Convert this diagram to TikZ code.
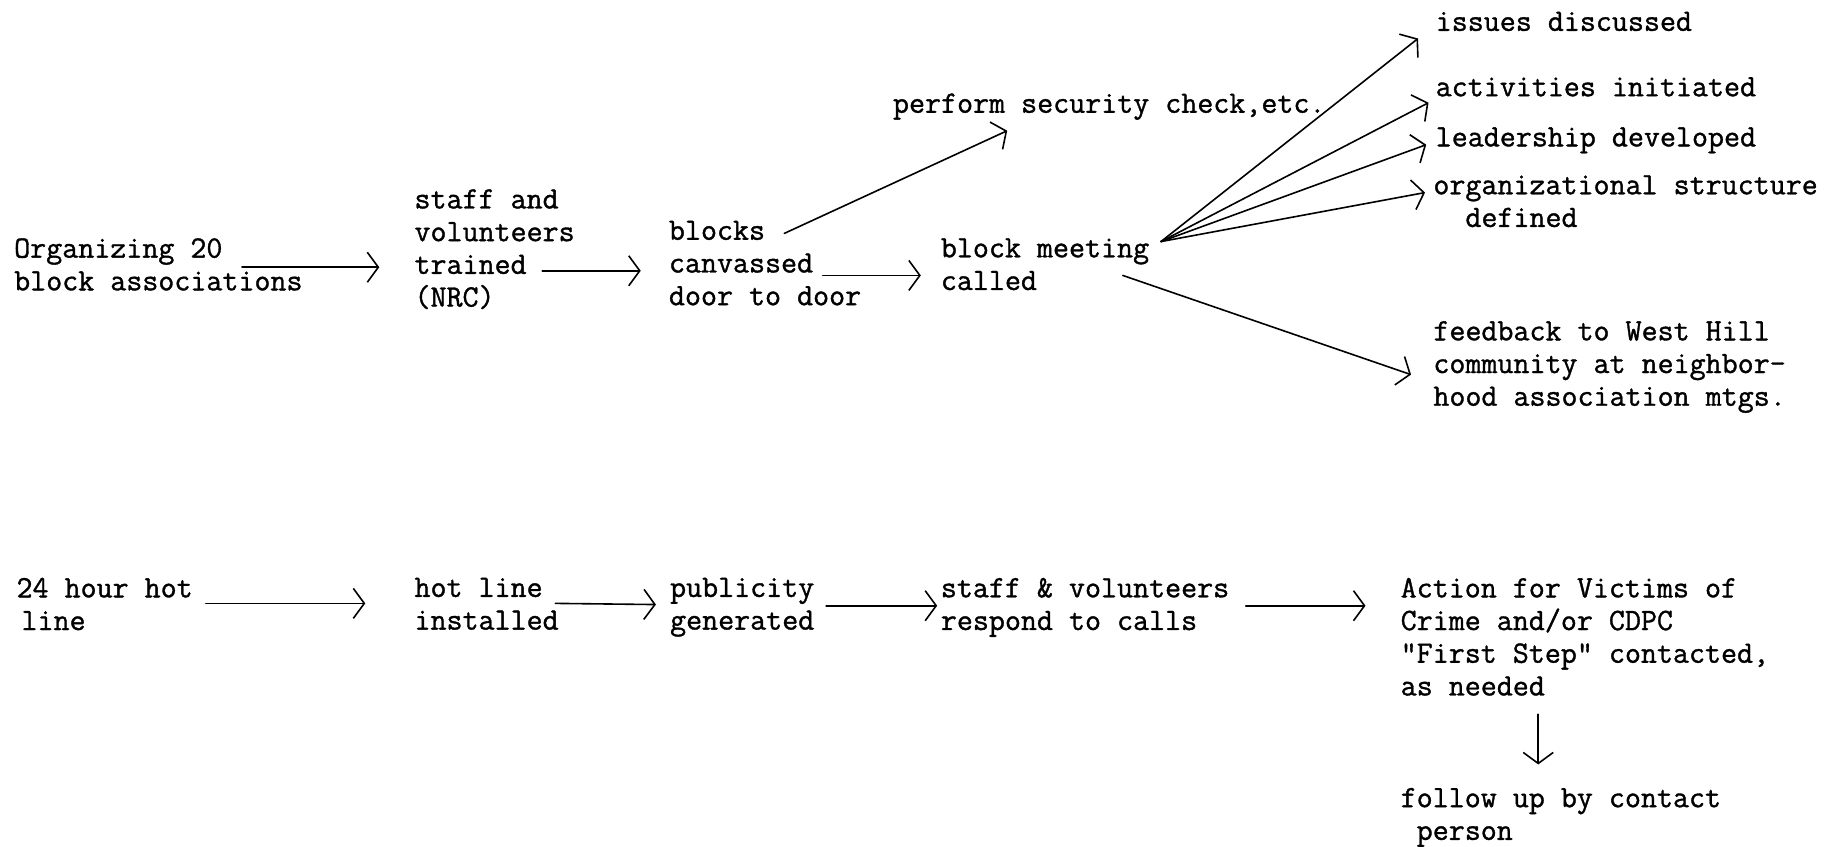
\documentclass[tikz,border=0pt]{standalone}
\usepackage{fontspec}
\newfontfamily\typew{Latin Modern Mono}[FakeBold=1.1]
\usetikzlibrary{arrows.meta}
\begin{document}
\begin{tikzpicture}[x=1.16709pt,y=-1.16709pt,
  txt/.style={anchor=north west, inner sep=0pt, align=left,
              font=\fontsize{31.1}{32.7}\selectfont\typew},
  arr/.style={line width=1.6pt, line cap=round,
              -{Straight Barb[length=11pt,width=30pt]}}]
\useasboundingbox (0,0) rectangle (1568,725);

% --- block association programme ---
\node[txt] (org)    at (12,204)  {Organizing 20\\block associations};
\node[txt] (staff)  at (355,162) {staff and\\volunteers\\trained\\(NRC)};
\node[txt] (blocks) at (573,189) {blocks\\canvassed\\door to door};
\node[txt] (meet)   at (806,204) {block meeting\\called};
\node[txt] (perf)   at (765,80)  {perform security check,etc.};
\node[txt] (issues) at (1230,10) {issues discussed};
\node[txt] (activ)  at (1230,66) {activities initiated};
\node[txt] (lead)   at (1230,109){leadership developed};
\node[txt] (struct) at (1228,150){organizational structure\\\phantom{xx}defined};
\node[txt] (feed)   at (1228,275){feedback to West Hill\\community at neighbor-\\hood association mtgs.};

\draw[arr] ([shift={(-52,25)}]org.north east) -- ([shift={(-30,67)}]staff.north west);
\draw[arr] ([shift={(-28,70)}]staff.north east) -- ([shift={(-24,43)}]blocks.north west);
\draw[arr] ([shift={(-33,47)}]blocks.north east) -- ([shift={(-17,32)}]meet.north west);
\draw[arr] ([shift={(99,11)}]blocks.north west) -- ([shift={(98,32)}]perf.north west);

\coordinate (fan) at ([shift={(10,3)}]meet.north east);
\draw[arr] (fan) -- ([shift={(-15,23)}]issues.north west);
\draw[arr] (fan) -- ([shift={(-6,22)}]activ.north west);
\draw[arr] (fan) -- ([shift={(-8,15)}]lead.north west);
\draw[arr] (fan) -- ([shift={(-7,15)}]struct.north west);
\draw[arr] ([shift={(156,32)}]meet.north west) -- ([shift={(-19,46)}]feed.north west);

% --- hot line programme ---
\node[txt] (hot24) at (14,495)   {24 hour hot\\\hspace*{5pt}line};
\node[txt] (hotl)  at (355,495)  {hot line\\installed};
\node[txt] (publ)  at (574,495)  {publicity\\generated};
\node[txt] (resp)  at (806,495)  {staff \& volunteers\\respond to calls};
\node[txt] (avc)   at (1200,495) {Action for Victims of\\Crime and/or CDPC\\"First Step" contacted,\\as needed};
\node[txt] (fol)   at (1200,675) {follow up by contact\\\phantom{x}person};

\draw[arr] ([shift={(11,22)}]hot24.north east) -- ([shift={(-42,22)}]hotl.north west);
\draw[arr] ([shift={(-3,22)}]hotl.north east) -- ([shift={(-12,23)}]publ.north west);
\draw[arr] ([shift={(10,24)}]publ.north east) -- ([shift={(-3,24)}]resp.north west);
\draw[arr] ([shift={(14,24)}]resp.north east) -- ([shift={(-30,24)}]avc.north west);
\draw[arr] ([shift={(118,117)}]avc.north west) -- ([shift={(118,-20)}]fol.north west);
\end{tikzpicture}
\end{document}
